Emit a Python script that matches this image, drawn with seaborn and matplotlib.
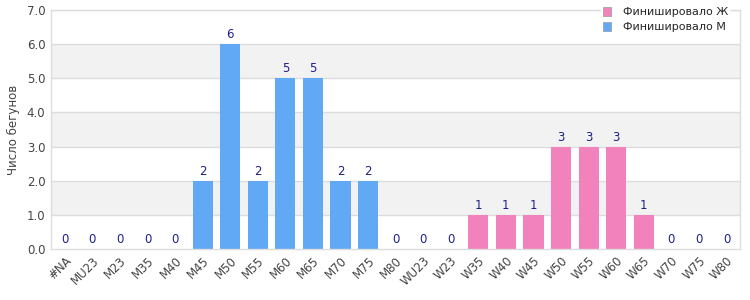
import matplotlib
matplotlib.use("Agg")
import matplotlib.pyplot as plt
import seaborn as sns
import pandas as pd
from matplotlib.patches import Patch

categories = ["#NA", "MU23", "M23", "M35", "M40", "M45", "M50", "M55", "M60", "M65",
              "M70", "M75", "M80", "WU23", "W23", "W35", "W40", "W45", "W50", "W55",
              "W60", "W65", "W70", "W75", "W80"]
values = [0, 0, 0, 0, 0, 2, 6, 2, 5, 5, 2, 2, 0, 0, 0, 1, 1, 1, 3, 3, 3, 1, 0, 0, 0]
groups = ["Финишировало М"] * 13 + ["Финишировало Ж"] * 12
colors = {"Финишировало Ж": "#f182bb", "Финишировало М": "#61a9f4"}
y_label = "Число бегунов"

sns.set_theme(style="white")
plt.rcParams['font.family'] = ['DejaVu Sans']

df = pd.DataFrame({"cat": categories, "val": values, "grp": groups})

fig = plt.figure(figsize=(7.5, 3.0), dpi=100)
ax = fig.add_axes([0.068, 0.17, 0.919, 0.797])

# alternating bands
for lo in (1, 3, 5):
    ax.axhspan(lo, lo + 1, color="#f2f2f2", zorder=0, lw=0)
for yv in range(1, 8):
    ax.axhline(yv, color="#dddddd", lw=1, zorder=0.5)

sns.barplot(data=df, x="cat", y="val", hue="grp", palette=colors, dodge=False,
            width=0.73, ax=ax, legend=False, zorder=2, saturation=1,
            linewidth=0, edgecolor="none")

for i, v in enumerate(values):
    ax.text(i, v + 0.08, str(v), ha="center", va="bottom", fontsize=8.5,
            color="#1f1f8c", zorder=3)

ax.set_ylim(0, 7)
ax.set_xlim(-0.5, len(categories) - 0.5)
ax.set_yticks(range(0, 8))
ax.set_yticklabels([f"{v:.1f}" for v in range(0, 8)], fontsize=8.5, color="#444444")
ax.set_xticks(range(len(categories)))
ax.set_xticklabels(categories, rotation=45, ha="right", rotation_mode="anchor",
                   fontsize=8.5, color="#444444")
ax.tick_params(axis="both", length=0, pad=4)
ax.set_xlabel("")
ax.set_ylabel(y_label, fontsize=8.5, color="#444444", labelpad=5)
for s in ax.spines.values():
    s.set_color("#dddddd")
    s.set_linewidth(1)

handles = [Patch(facecolor=colors["Финишировало Ж"], edgecolor="#999999", lw=0.5),
           Patch(facecolor=colors["Финишировало М"], edgecolor="#999999", lw=0.5)]
leg = fig.legend(handles, ["Финишировало Ж", "Финишировало М"], loc="upper right",
                 bbox_to_anchor=(0.98, 1.0), fontsize=8, frameon=True,
                 handlelength=0.8, handleheight=0.8, handletextpad=1.0,
                 labelspacing=0.45, borderpad=0.15, fancybox=False)
leg.get_frame().set_edgecolor("white")
leg.get_frame().set_facecolor("white")
leg.get_frame().set_alpha(1)
leg.set_zorder(10)

fig.savefig("out.png", dpi=100)
